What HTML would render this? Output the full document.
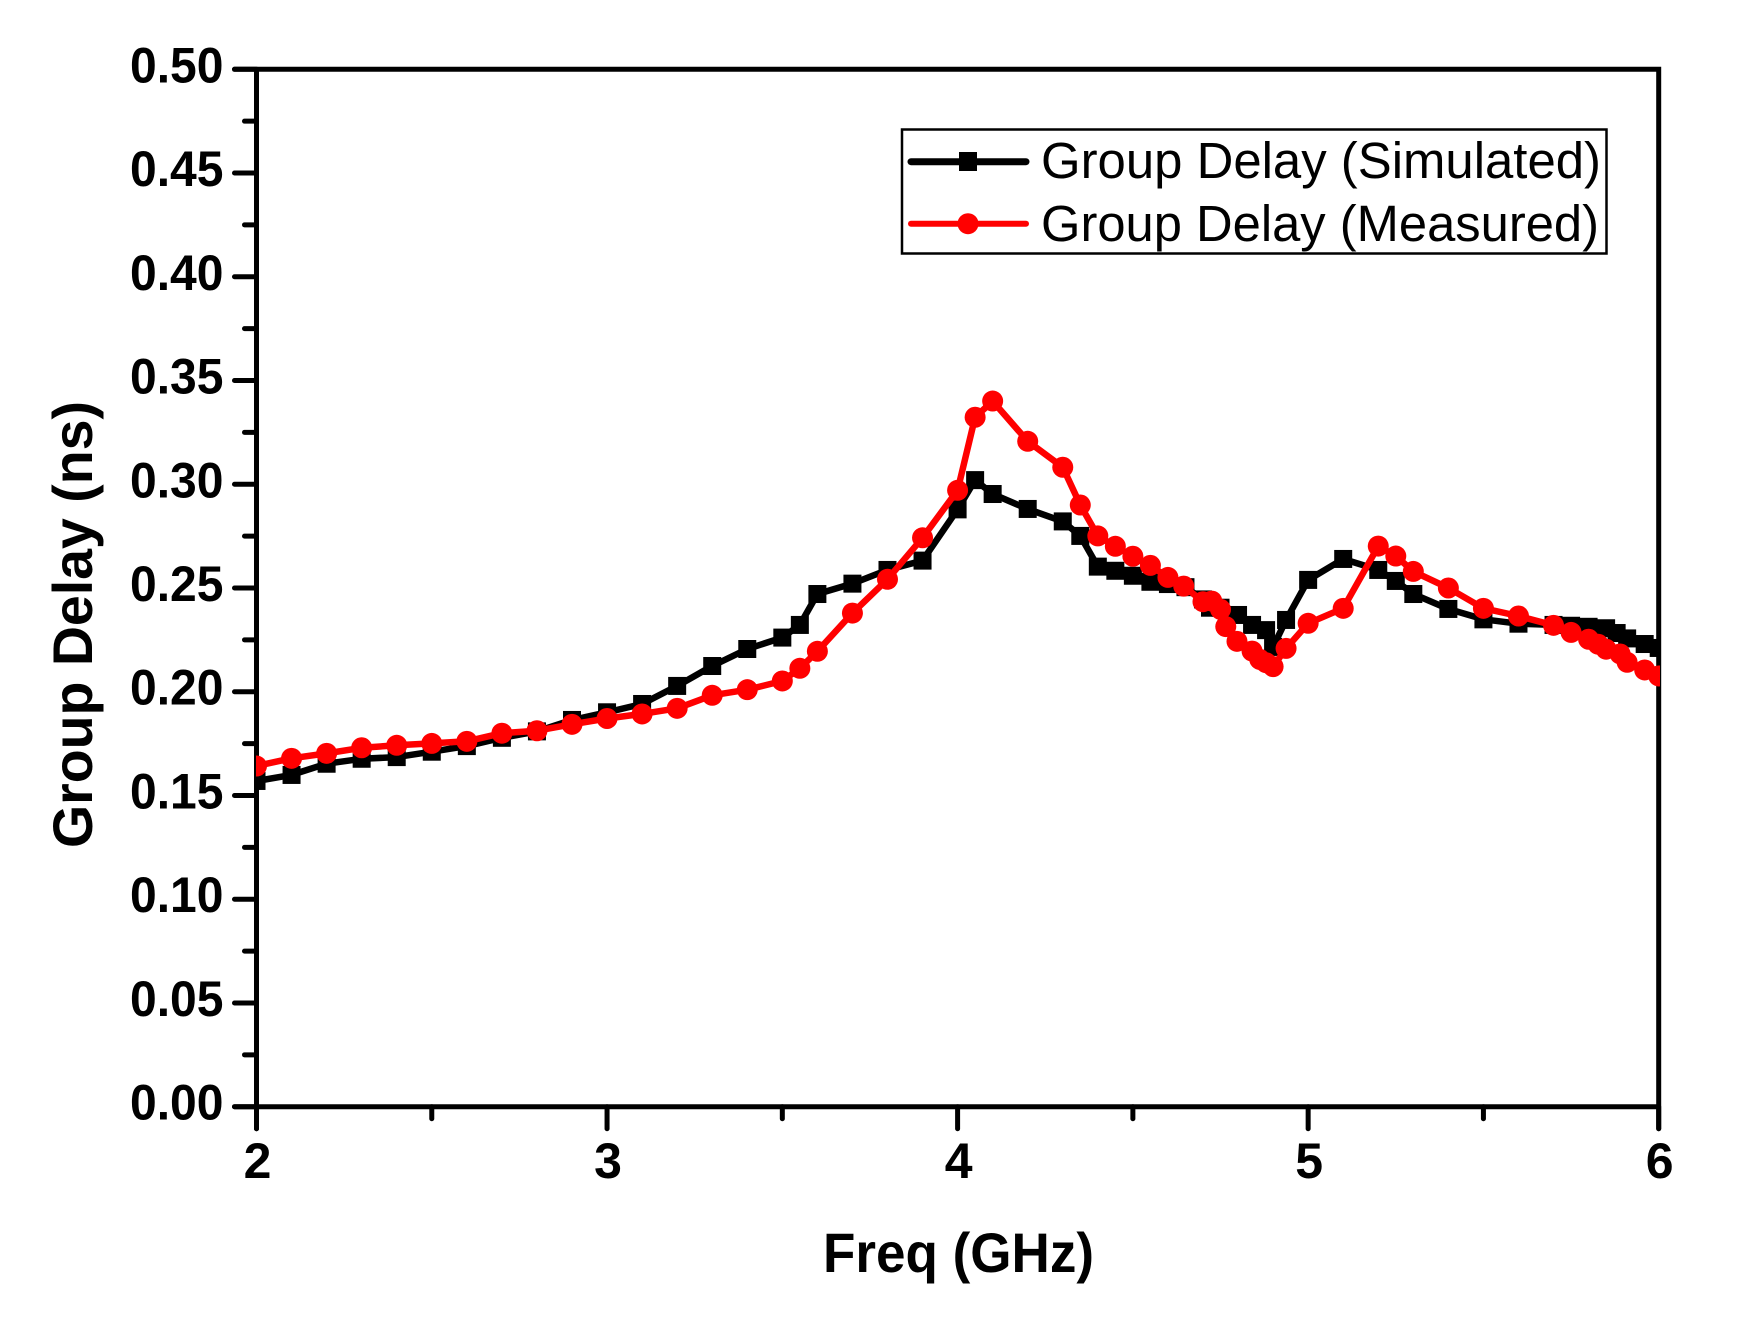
<!DOCTYPE html>
<html lang="en">
<head>
<meta charset="utf-8">
<title>Group Delay vs Frequency</title>
<style>
html,body{margin:0;padding:0;background:#fff;}
svg{display:block;}
text{fill:#000;font-family:"Liberation Sans",Arial,sans-serif;}
.tick{font-size:50px;font-weight:bold;}
.title{font-size:56px;font-weight:bold;}
.leg{font-size:51px;}
</style>
</head>
<body>
<svg id="chart" xmlns="http://www.w3.org/2000/svg" width="1739" height="1323" viewBox="0 0 1739 1323">
<rect x="0" y="0" width="1739" height="1323" fill="#fff"/>
<defs><clipPath id="plot-clip"><rect x="256" y="60" width="1404" height="1060"/></clipPath></defs>
<g id="axes"></g>
<g id="series" clip-path="url(#plot-clip)"></g>
<text class="title" x="823" y="1272" textLength="271" lengthAdjust="spacingAndGlyphs">Freq (GHz)</text>
<text class="title" transform="translate(92,848) rotate(-90)" x="0" y="0" textLength="447" lengthAdjust="spacingAndGlyphs">Group Delay (ns)</text>
<g>
<rect x="902" y="129.5" width="704.5" height="124" fill="#fff" stroke="#000" stroke-width="2.5"/>
<line x1="911" y1="161.7" x2="1026" y2="161.7" stroke="#000" stroke-width="7" stroke-linecap="round"/>
<rect x="959" y="152" width="18" height="19" fill="#000"/>
<text class="leg" x="1041" y="178" textLength="560" lengthAdjust="spacingAndGlyphs">Group Delay (Simulated)</text>
<line x1="911" y1="223.7" x2="1026" y2="223.7" stroke="#f00" stroke-width="6" stroke-linecap="round"/>
<circle cx="968" cy="223.7" r="10.5" fill="#f00"/>
<text class="leg" x="1041" y="241" textLength="558" lengthAdjust="spacingAndGlyphs">Group Delay (Measured)</text>
</g>
</svg>
<script>
const xTickValues = [2, 3, 4, 5, 6];
const xTickLabels = ["2", "3", "4", "5", "6"];
const xMinorValues = [2.5, 3.5, 4.5, 5.5];
const yTickValues = [0, 0.05, 0.1, 0.15, 0.2, 0.25, 0.3, 0.35, 0.4, 0.45, 0.5];
const yTickLabels = ["0.00", "0.05", "0.10", "0.15", "0.20", "0.25", "0.30", "0.35", "0.40", "0.45", "0.50"];
const yMinorValues = [0.025, 0.075, 0.125, 0.175, 0.225, 0.275, 0.325, 0.375, 0.425, 0.475];

const simFreq = [2, 2.1, 2.2, 2.3, 2.4, 2.5, 2.6, 2.7, 2.8, 2.9, 3, 3.1, 3.2, 3.3, 3.4, 3.5, 3.55, 3.6, 3.7, 3.8, 3.9, 4, 4.05, 4.1, 4.2, 4.3, 4.35, 4.4, 4.45, 4.5, 4.55, 4.6, 4.65, 4.7, 4.72, 4.75, 4.8, 4.84, 4.88, 4.9, 4.937, 5, 5.1, 5.2, 5.25, 5.3, 5.4, 5.5, 5.6, 5.7, 5.75, 5.8, 5.85, 5.88, 5.91, 5.96, 6];
const simDelay = [0.157, 0.1599, 0.1653, 0.1677, 0.1685, 0.1711, 0.1738, 0.1778, 0.1809, 0.1864, 0.1901, 0.1941, 0.2028, 0.2124, 0.2206, 0.2261, 0.2322, 0.2471, 0.2521, 0.2587, 0.2632, 0.2879, 0.302, 0.2953, 0.2881, 0.2821, 0.2751, 0.2603, 0.2583, 0.2559, 0.253, 0.2519, 0.2504, 0.2445, 0.2405, 0.2405, 0.237, 0.2322, 0.2297, 0.2216, 0.2346, 0.2539, 0.264, 0.2587, 0.2534, 0.2471, 0.2399, 0.2349, 0.2328, 0.2322, 0.2318, 0.2313, 0.2306, 0.2283, 0.2257, 0.223, 0.2211];

const measFreq = [2, 2.1, 2.2, 2.3, 2.4, 2.5, 2.6, 2.7, 2.8, 2.9, 3, 3.1, 3.2, 3.3, 3.4, 3.5, 3.55, 3.6, 3.7, 3.8, 3.9, 4, 4.05, 4.1, 4.2, 4.3, 4.35, 4.4, 4.45, 4.5, 4.55, 4.6, 4.645, 4.7, 4.725, 4.75, 4.765, 4.797, 4.84, 4.862, 4.88, 4.9, 4.937, 5, 5.1, 5.2, 5.25, 5.3, 5.4, 5.5, 5.6, 5.7, 5.75, 5.8, 5.827, 5.85, 5.89, 5.91, 5.96, 6];
const measDelay = [0.1642, 0.1679, 0.1703, 0.173, 0.1742, 0.1751, 0.1761, 0.18, 0.1812, 0.1843, 0.1871, 0.1893, 0.192, 0.1983, 0.201, 0.2052, 0.2113, 0.2195, 0.2379, 0.2542, 0.2742, 0.2971, 0.3323, 0.3401, 0.3207, 0.3082, 0.29, 0.2751, 0.2701, 0.2653, 0.2609, 0.2551, 0.2509, 0.2434, 0.2437, 0.2397, 0.2314, 0.2243, 0.2196, 0.2156, 0.2140, 0.2121, 0.2209, 0.233, 0.2402, 0.2702, 0.2654, 0.258, 0.25, 0.2402, 0.2365, 0.232, 0.2286, 0.2253, 0.2229, 0.2205, 0.2182, 0.2142, 0.2105, 0.2076];

const NS = "http://www.w3.org/2000/svg";
const X0 = 256.5, X1 = 1658.7, Y0 = 1106.7, Y1 = 69.3;
function xScale(v) { return X0 + (v - 2) / 4 * (X1 - X0); }
function yScale(v) { return Y0 - v / 0.5 * (Y0 - Y1); }
function make(parent, tag, attrs) {
  const el = document.createElementNS(NS, tag);
  for (const k in attrs) el.setAttribute(k, attrs[k]);
  parent.appendChild(el);
  return el;
}
const axes = document.getElementById("axes");
const series = document.getElementById("series");
const AXW = 5;

const frame = make(axes, "path", { d: `M${X0} ${Y0}V${Y1}M${X0 - 22} ${Y1}H${X1}V${Y0 + 22}M${X0 - 22} ${Y0}H${X1}M${X0} ${Y0}V${Y0 + 22}`, fill: "none", stroke: "#000", "stroke-width": AXW, "stroke-linecap": "round" });



yTickValues.forEach((v, i) => {
  const y = yScale(v);
  const t = make(axes, "line", { x1: X0 - 22, y1: y, x2: X0, y2: y, stroke: "#000", "stroke-width": AXW, "stroke-linecap": "round" });
  
  
  const l = make(axes, "text", { x: 223.5, y: y + 13, "text-anchor": "end", class: "tick", textLength: 93.5, lengthAdjust: "spacingAndGlyphs" });
  l.textContent = yTickLabels[i];
  
  
});
yMinorValues.forEach((v) => {
  const y = yScale(v);
  const t = make(axes, "line", { x1: X0 - 12, y1: y, x2: X0, y2: y, stroke: "#000", "stroke-width": AXW, "stroke-linecap": "round" });
  
  
});
xTickValues.forEach((v, i) => {
  const x = xScale(v);
  const t = make(axes, "line", { x1: x, y1: Y0, x2: x, y2: Y0 + 22, stroke: "#000", "stroke-width": AXW, "stroke-linecap": "round" });
  
  
  const l = make(axes, "text", { x: x + 1, y: 1178, "text-anchor": "middle", class: "tick" });
  l.textContent = xTickLabels[i];
  
  
});
xMinorValues.forEach((v) => {
  const x = xScale(v);
  const t = make(axes, "line", { x1: x, y1: Y0, x2: x, y2: Y0 + 12, stroke: "#000", "stroke-width": AXW, "stroke-linecap": "round" });
  
  
});

function linePoints(fs, ds) {
  return fs.map((f, i) => xScale(f).toFixed(1) + "," + yScale(ds[i]).toFixed(1)).join(" ");
}
const simLine = make(series, "polyline", { points: linePoints(simFreq, simDelay), fill: "none", stroke: "#000", "stroke-width": 6.5, "stroke-linejoin": "round" });


simFreq.forEach((f, i) => {
  const m = make(series, "rect", { x: xScale(f) - 9, y: yScale(simDelay[i]) - 9, width: 18, height: 18, fill: "#000" });
  
  
});
const measLine = make(series, "polyline", { points: linePoints(measFreq, measDelay), fill: "none", stroke: "#f00", "stroke-width": 6.5, "stroke-linejoin": "round" });


measFreq.forEach((f, i) => {
  const m = make(series, "circle", { cx: xScale(f), cy: yScale(measDelay[i]), r: 10.5, fill: "#f00" });
  
  
});
</script>
</body>
</html>
